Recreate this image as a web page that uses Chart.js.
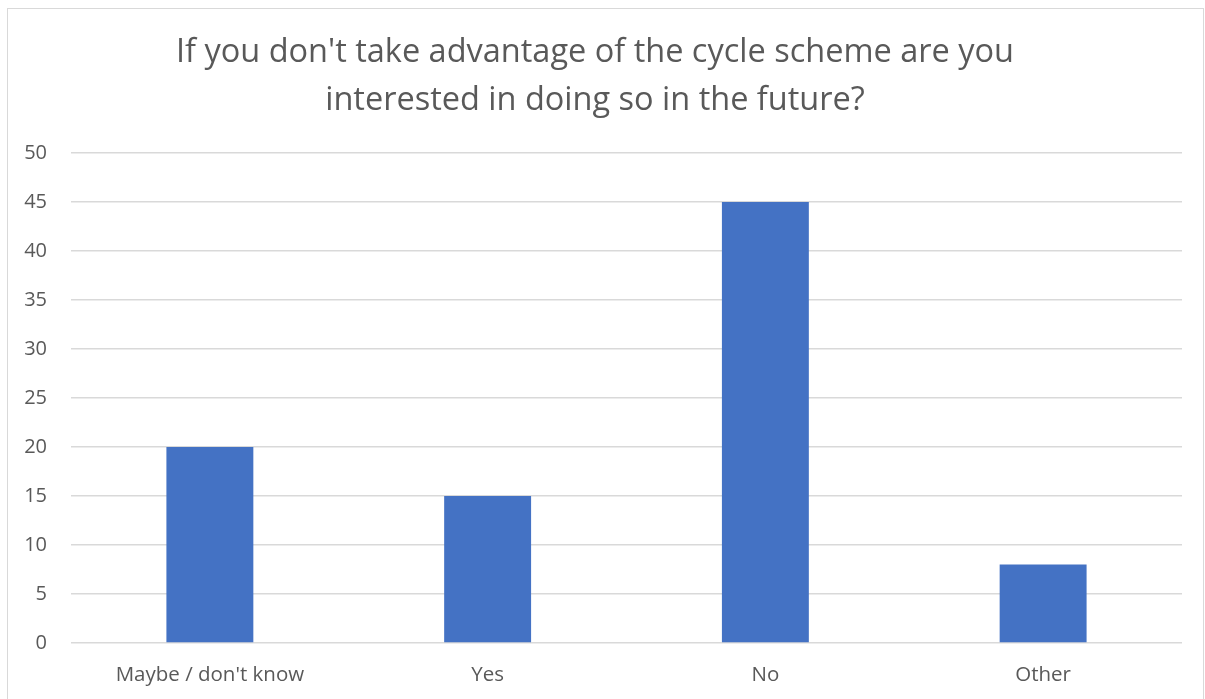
<!DOCTYPE html>
<html lang="en">
<head>
    <meta charset="UTF-8">
    <title>Cycle scheme interest</title>
    <script src="https://cdn.jsdelivr.net/npm/chart.js"></script>
    <style>
        body { margin: 0; background: #fff; }
        .frame {
            position: absolute; left: 7px; top: 8px;
            width: 1195px; height: 700px;
            border: 1px solid #d9d9d9; border-bottom: none;
        }
    </style>
</head>
<body>
    <div class="frame">
        <canvas id="chart" width="1195" height="690"></canvas>
    </div>

    <script>
        // data
        const categories = ['Maybe / don\'t know', 'Yes', 'No', 'Other'];
        const responses = [20, 15, 45, 8];
        const yTicks = [0, 5, 10, 15, 20, 25, 30, 35, 40, 45, 50];
        const titleLines = ['If you don\'t take advantage of the cycle scheme are you', 'interested in doing so in the future?'];

        const textColor = '#595959';
        const fontFamily = '"Open Sans", sans-serif';

        new Chart(document.getElementById('chart'), {
            type: 'bar',
            data: {
                labels: categories,
                datasets: [{
                    data: responses,
                    backgroundColor: '#4472C4',
                    barPercentage: 0.313,
                    categoryPercentage: 1
                }]
            },
            options: {
                responsive: false,
                animation: false,
                layout: { padding: { left: 0, right: 21, top: 0, bottom: 0 } },
                plugins: {
                    legend: { display: false },
                    tooltip: { enabled: false },
                    title: {
                        display: true,
                        text: titleLines,
                        color: textColor,
                        font: { family: fontFamily, size: 32.5, weight: 'normal', lineHeight: 1.477 },
                        padding: { top: 20, bottom: 28 }
                    }
                },
                scales: {
                    x: {
                        grid: { display: false },
                        border: { display: false },
                        ticks: { color: textColor, font: { family: fontFamily, size: 20.5 }, padding: 12 },
                        afterFit: s => { s.height = 56; }
                    },
                    y: {
                        min: yTicks[0],
                        max: yTicks[yTicks.length - 1],
                        afterBuildTicks: s => { s.ticks = yTicks.map(v => ({ value: v })); },
                        grid: { color: '#d9d9d9', lineWidth: 1.5, drawTicks: false },
                        border: { display: false },
                        ticks: { color: textColor, font: { family: fontFamily, size: 20 }, padding: 24 },
                        afterFit: s => { s.width = 63; }
                    }
                }
            }
        });
    </script>
</body>
</html>
